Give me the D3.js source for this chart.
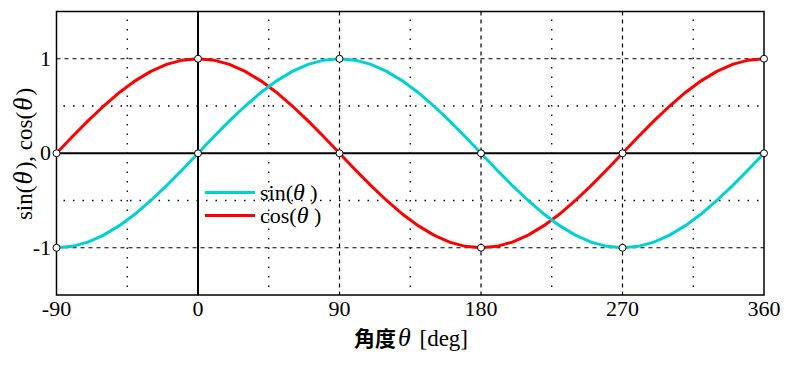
<!DOCTYPE html>
<html><head><meta charset="utf-8">
<script src="https://cdn.jsdelivr.net/npm/d3@7"></script>
<style>body{margin:0;background:#fff}svg{display:block}</style>
</head><body>
<svg id="c" width="799" height="365"></svg>
<script>
const angles = [-90,-80,-70,-60,-50,-40,-30,-20,-10,0,10,20,30,40,50,60,70,80,90,100,110,120,130,140,150,160,170,180,190,200,210,220,230,240,250,260,270,280,290,300,310,320,330,340,350,360];
const sinVals = [-1,-0.985,-0.94,-0.866,-0.766,-0.643,-0.5,-0.342,-0.174,0,0.174,0.342,0.5,0.643,0.766,0.866,0.94,0.985,1,0.985,0.94,0.866,0.766,0.643,0.5,0.342,0.174,0,-0.174,-0.342,-0.5,-0.643,-0.766,-0.866,-0.94,-0.985,-1,-0.985,-0.94,-0.866,-0.766,-0.643,-0.5,-0.342,-0.174,0];
const cosVals = [0,0.174,0.342,0.5,0.643,0.766,0.866,0.94,0.985,1,0.985,0.94,0.866,0.766,0.643,0.5,0.342,0.174,0,-0.174,-0.342,-0.5,-0.643,-0.766,-0.866,-0.94,-0.985,-1,-0.985,-0.94,-0.866,-0.766,-0.643,-0.5,-0.342,-0.174,0,0.174,0.342,0.5,0.643,0.766,0.866,0.94,0.985,1];
const markAngles = [-90,0,90,180,270,360];
const sinMarks = [-1,0,1,0,-1,0];
const cosMarks = [0,1,0,-1,0,1];
const xTicks = [-90,0,90,180,270,360];
const xMinor = [-45,45,135,225,315];
const yTicks = [-1,0,1];
const yMinor = [-0.5,0.5];

const svg = d3.select("#c");
const x = d3.scaleLinear().domain([-90,360]).range([56.5,764]);
const y = d3.scaleLinear().domain([-1.5,1.5]).range([295,11.5]);
const serif = "'Liberation Serif','Times New Roman',serif";

// minor dotted grid
svg.selectAll(".vmin").data(xMinor).join("line")
  .attr("x1",d=>x(d)).attr("x2",d=>x(d)).attr("y1",y(1.5)+8).attr("y2",y(-1.5))
  .attr("stroke","#000").attr("stroke-width",1.3).attr("stroke-dasharray","1.5,8");
svg.selectAll(".hmin").data(yMinor).join("line")
  .attr("y1",d=>y(d)).attr("y2",d=>y(d)).attr("x1",x(-90)+7).attr("x2",x(360))
  .attr("stroke","#000").attr("stroke-width",1.3).attr("stroke-dasharray","1.5,8");
// major dashed grid
svg.selectAll(".vmaj").data([90,180,270]).join("line")
  .attr("x1",d=>x(d)).attr("x2",d=>x(d)).attr("y1",y(1.5)).attr("y2",y(-1.5))
  .attr("stroke","#000").attr("stroke-width",1.2).attr("stroke-dasharray","4,4");
svg.selectAll(".hmaj").data([-1,1]).join("line")
  .attr("y1",d=>y(d)).attr("y2",d=>y(d)).attr("x1",x(-90)).attr("x2",x(360))
  .attr("stroke","#000").attr("stroke-width",1.2).attr("stroke-dasharray","4,4");
// zero lines
svg.append("line").attr("x1",x(0)).attr("x2",x(0)).attr("y1",y(1.5)).attr("y2",y(-1.5))
  .attr("stroke","#000").attr("stroke-width",2);
svg.append("line").attr("x1",x(-90)).attr("x2",x(360)).attr("y1",y(0)).attr("y2",y(0))
  .attr("stroke","#000").attr("stroke-width",2);
// frame
svg.append("rect").attr("x",x(-90)).attr("y",y(1.5)).attr("width",x(360)-x(-90)).attr("height",y(-1.5)-y(1.5))
  .attr("fill","none").attr("stroke","#000").attr("stroke-width",1.5);

const line = d3.line().x(d=>x(d[0])).y(d=>y(d[1]));
svg.append("path").datum(angles.map((a,i)=>[a,cosVals[i]])).attr("d",line)
  .attr("fill","none").attr("stroke","#ff0000").attr("stroke-width",3);
svg.append("path").datum(angles.map((a,i)=>[a,sinVals[i]])).attr("d",line)
  .attr("fill","none").attr("stroke","#00d2d2").attr("stroke-width",3);

// markers
const markers = markAngles.map((a,i)=>[a,sinMarks[i]]).concat(markAngles.map((a,i)=>[a,cosMarks[i]]));
svg.selectAll(".mk").data(markers).join("circle")
  .attr("cx",d=>x(d[0])).attr("cy",d=>y(d[1])).attr("r",3.5)
  .attr("fill","#fff").attr("stroke","#000").attr("stroke-width",1);

// tick labels
svg.selectAll(".xt").data(xTicks).join("text")
  .attr("x",d=>x(d)).attr("y",316).attr("text-anchor","middle")
  .attr("font-family",serif).attr("font-size",22).text(d=>d);
svg.selectAll(".yt").data(yTicks).join("text")
  .attr("x",51).attr("y",d=>y(d)+7).attr("text-anchor","end")
  .attr("font-family",serif).attr("font-size",22).text(d=>d);

// axis labels
const xl = svg.append("text").attr("x",411).attr("y",346).attr("text-anchor","middle")
  .attr("font-family",serif).attr("font-size",23);
xl.append("tspan").attr("font-family","'Noto Sans CJK JP',sans-serif").attr("font-weight","bold").attr("font-size",21).text("角度");
xl.append("tspan").attr("font-style","italic").attr("font-size",26).attr("dx",2).text("θ");
xl.append("tspan").attr("dx",3).text(" [deg]");

const yl = svg.append("text").attr("transform","translate(32,154) rotate(-90)").attr("text-anchor","middle")
  .attr("font-family",serif).attr("font-size",23);
yl.append("tspan").text("sin(");
yl.append("tspan").attr("font-style","italic").attr("font-size",27).attr("dx",1).text("θ");
yl.append("tspan").attr("dx",2).text("), cos(");
yl.append("tspan").attr("font-style","italic").attr("font-size",27).attr("dx",1).text("θ");
yl.append("tspan").attr("dx",2).text(")");

// legend
const legend = [{name:"sin",color:"#00d2d2"},{name:"cos",color:"#ff0000"}];
const lg = svg.selectAll(".lg").data(legend).join("g")
  .attr("transform",(d,i)=>`translate(0,${192.5+i*23})`);
lg.append("line").attr("x1",205).attr("x2",255).attr("stroke",d=>d.color).attr("stroke-width",3);
const lt = lg.append("text").attr("x",260).attr("y",7).attr("font-family",serif).attr("font-size",22);
lt.append("tspan").text(d=>d.name+"(");
lt.append("tspan").attr("font-style","italic").attr("font-size",24).text("θ");
lt.append("tspan").text(" )");
</script>
</body></html>
